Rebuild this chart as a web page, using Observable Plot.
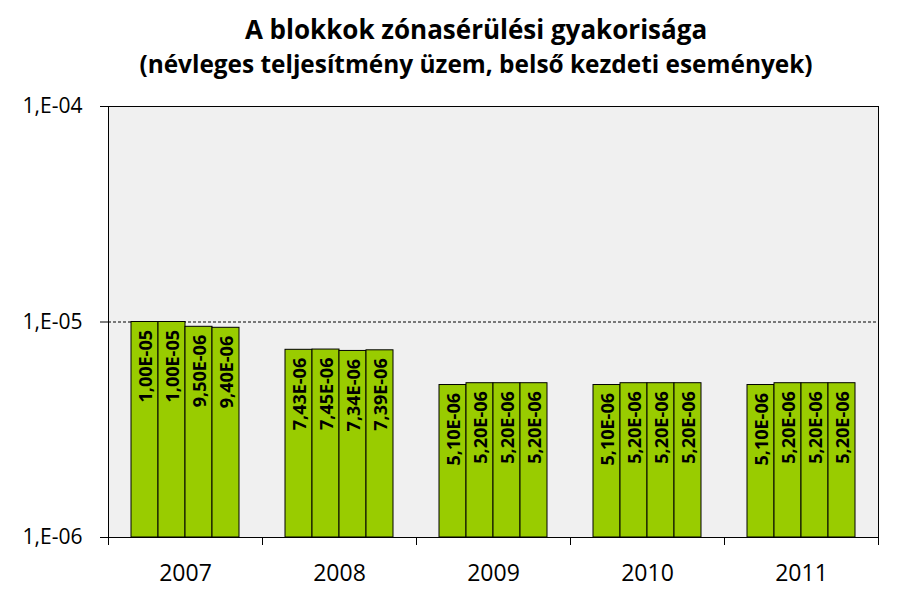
<!DOCTYPE html>
<html>
<head>
<meta charset="utf-8">
<script src="https://cdn.jsdelivr.net/npm/d3@7"></script>
<script src="https://cdn.jsdelivr.net/npm/@observablehq/plot@0.6"></script>
<style>
  body { margin: 0; background: #fff; }
  #wrap { position: relative; width: 900px; height: 612px; font-family: "Open Sans", sans-serif; overflow: hidden; }
  #wrap svg { position: absolute; left: 0; top: 0; }
  .ttl { position: absolute; left: 0; width: 952px; text-align: center; font-weight: bold; color: #000; white-space: nowrap; line-height: 1; }
  #t1 { top: 16px; font-size: 26px; }
  #t2 { top: 52px; font-size: 24.4px; }
</style>
</head>
<body>
<div id="wrap">
  <div class="ttl" id="t1">A blokkok zónasérülési gyakorisága</div>
  <div class="ttl" id="t2">(névleges teljesítmény üzem, belső kezdeti események)</div>
</div>
<script>
// ---- data ----
const years = ["2007", "2008", "2009", "2010", "2011"];
const units = ["1", "2", "3", "4"];
const values2007 = [1.00e-5, 1.00e-5, 9.50e-6, 9.40e-6];
const values2008 = [7.43e-6, 7.45e-6, 7.34e-6, 7.39e-6];
const values2009 = [5.10e-6, 5.20e-6, 5.20e-6, 5.20e-6];
const values2010 = [5.10e-6, 5.20e-6, 5.20e-6, 5.20e-6];
const values2011 = [5.10e-6, 5.20e-6, 5.20e-6, 5.20e-6];
const yTicks = [1e-6, 1e-5, 1e-4];
const yTickLabels = ["1,E-06", "1,E-05", "1,E-04"];
const yDomain = [1e-6, 1e-4];

const seriesByYear = [values2007, values2008, values2009, values2010, values2011];
const rows = [];
years.forEach((yr, i) => units.forEach((u, j) => rows.push({year: yr, unit: u, value: seriesByYear[i][j]})));

function fmt(v) {
  const e = Math.floor(Math.log10(v) + 1e-9);
  const m = v / Math.pow(10, e);
  const sign = e < 0 ? "-" : "+";
  return m.toFixed(2).replace(".", ",") + "E" + sign + String(Math.abs(e)).padStart(2, "0");
}

const W = 900, H = 612;
const margins = {marginTop: 106, marginBottom: 75, marginLeft: 108, marginRight: 22};

// ---- base: plot area, grid, axes ----
const base = Plot.plot({
  width: W, height: H, ...margins,
  style: {fontFamily: "Open Sans", background: "transparent", color: "#000"},
  x: {domain: [0, years.length]},
  y: {type: "log", domain: yDomain},
  marks: [
    Plot.frame({fill: "#f0f0f0", stroke: "#000"}),
    Plot.ruleY([1e-5], {stroke: "#000", strokeDasharray: "3,2"}),
    Plot.axisY(yTicks, {tickSize: 8, tickPadding: 18, fontSize: 21, label: null,
      tickFormat: d => yTickLabels[yTicks.indexOf(d)]}),
    Plot.axisX(d3.range(years.length + 1), {tickSize: 8, tickFormat: () => "", label: null}),
    Plot.axisX(years.map((_, i) => i + 0.5), {tickSize: 0, tickPadding: 27, fontSize: 23, label: null,
      tickFormat: d => years[Math.round(d - 0.5)]})
  ]
});

// ---- bars ----
const bars = Plot.plot({
  width: W, height: H, ...margins,
  style: {fontFamily: "Open Sans", background: "transparent", color: "#000"},
  fx: {domain: years, padding: 0, axis: null, label: null},
  x: {domain: units, paddingInner: 0, paddingOuter: 0.775, axis: null},
  y: {type: "log", domain: yDomain, axis: null},
  marks: [
    Plot.barY(rows, {fx: "year", x: "unit", y1: yDomain[0], y2: "value", fill: "#99cc00", stroke: "#000", strokeWidth: 1}),
    Plot.text(rows, {fx: "year", x: "unit", y: "value", text: d => fmt(d.value), rotate: -90,
      textAnchor: "end", dy: 8, dx: 1, fontWeight: "bold", fontSize: 18, fill: "#000"})
  ]
});

const wrap = document.getElementById("wrap");
wrap.insertBefore(base, wrap.firstChild);
wrap.insertBefore(bars, base.nextSibling);
</script>
</body>
</html>
